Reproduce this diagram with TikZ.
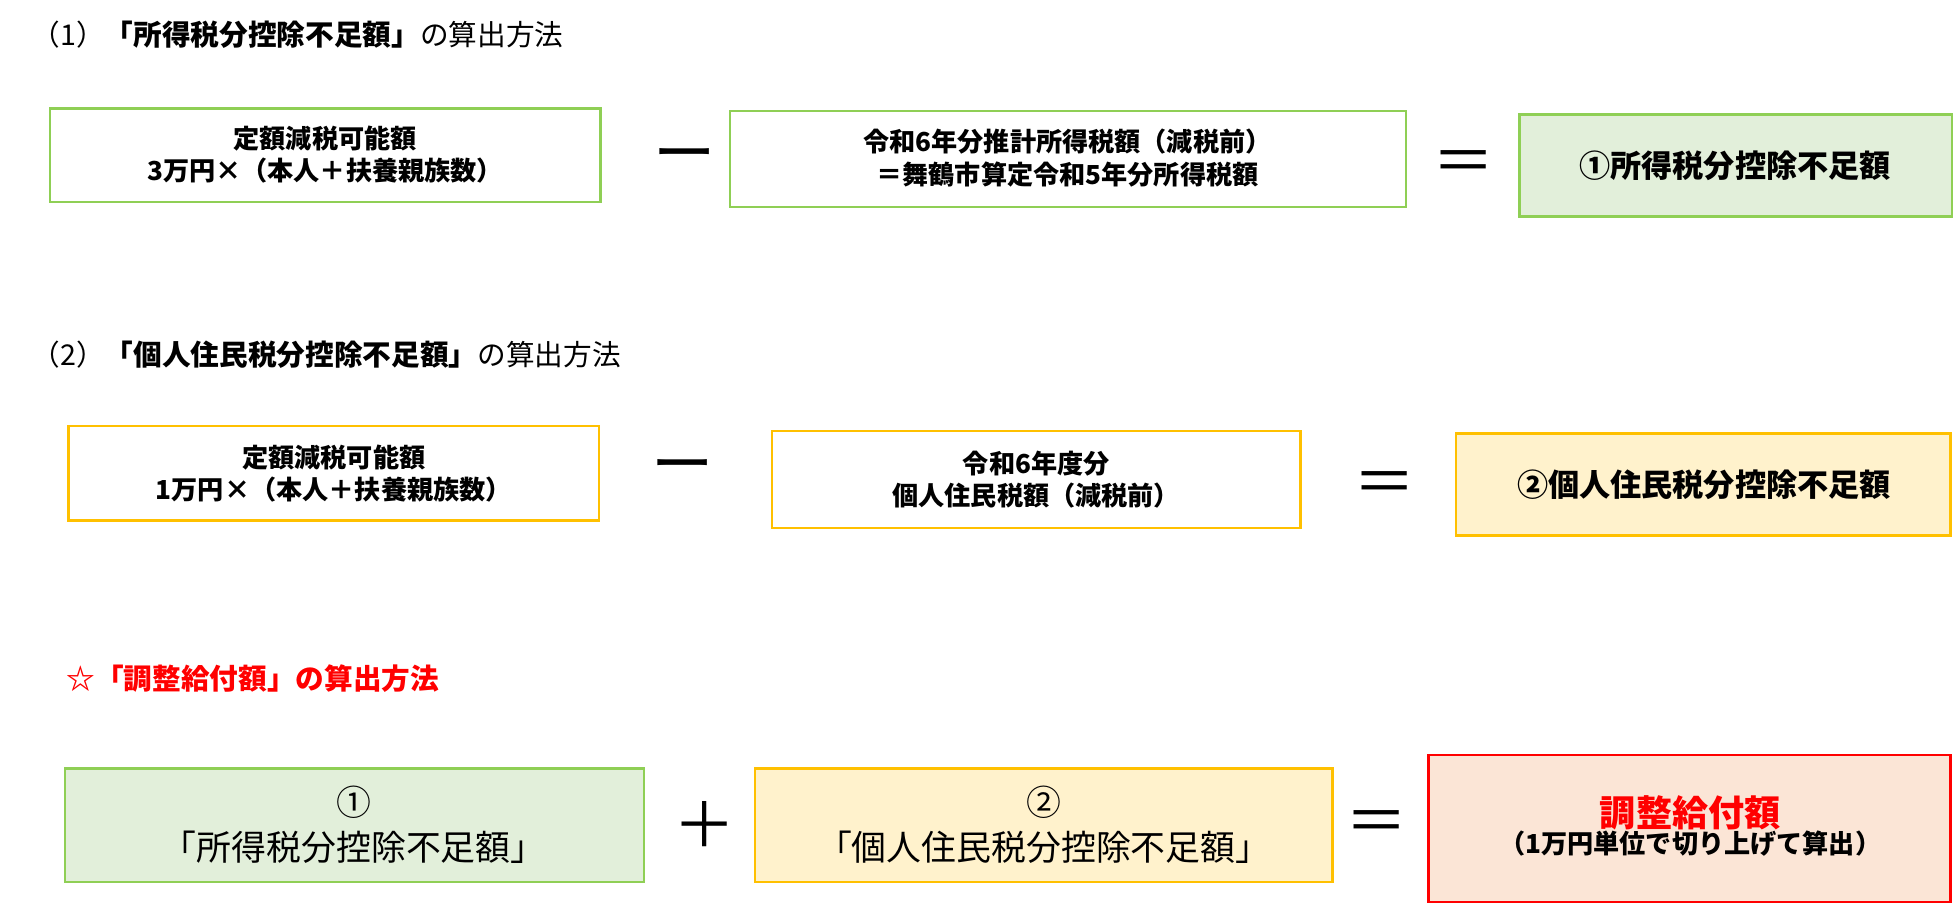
\documentclass[tikz,border=0pt]{standalone}
\usepackage{fontspec}
\setmainfont{Noto Sans CJK JP}
\definecolor{gb}{HTML}{8FCF55}\definecolor{gf}{HTML}{E2EFDA}
\definecolor{yb}{HTML}{FFC000}\definecolor{yf}{HTML}{FFF2CC}
\definecolor{rb}{HTML}{FF0000}\definecolor{rf}{HTML}{FBE5D6}
\begin{document}
\begin{tikzpicture}[x=1pt,y=-1pt,scale=1.2455,transform shape,
  lbl/.style={font=\fontsize{21}{26}\selectfont\bfseries, align=center, text=black},
  big/.style={font=\fontsize{30}{36}\selectfont\bfseries, align=center},
  op/.style={font=\fontsize{50}{54}\selectfont},
  ttl/.style={anchor=west, font=\fontsize{23}{28}\selectfont},
  G/.style={draw=gb,line width=2.5pt},Y/.style={draw=yb,line width=2.5pt}]
\fill[white] (0,0) rectangle (1568,727);
% titles
\node[ttl] (t1) at (22,28) {（1）\textbf{「所得税分控除不足額」}の算出方法};
\node[ttl] (t2) at (22,285) {（2）\textbf{「個人住民税分控除不足額」}の算出方法};
\node[ttl,text=rb] (t3) at (50,545) {\textbf{☆「調整給付額」の算出方法}};
% row 1
\draw[G] (40,87) rectangle (482,162); \node[lbl] (a1) at (261,124) {定額減税可能額\\3万円×（本人＋扶養親族数）};
\node[op] (m1) at (550,130) {ー};
\draw[G] (586,89) rectangle (1129,166); \node[lbl] (a2) at (857,127) {令和6年分推計所得税額（減税前）\\＝舞鶴市算定令和5年分所得税額};
\node[op] (e1) at (1175,134) {＝};
\draw[G,fill=gf] (1220,92) rectangle (1567,174); \node[big,font=\fontsize{25}{30}\selectfont\bfseries] (a3) at (1393,133) {①所得税分控除不足額};
% row 2
\draw[Y] (55,342) rectangle (481,418); \node[lbl] (b1) at (268,380) {定額減税可能額\\1万円×（本人＋扶養親族数）};
\node[op] (m2) at (548,380) {ー};
\draw[Y] (620,346) rectangle (1044,424); \node[lbl] (b2) at (832,385) {令和6年度分\\個人住民税額（減税前）};
\node[op] (e2) at (1112,392) {＝};
\draw[Y,fill=yf] (1169,348) rectangle (1566,430); \node[big,font=\fontsize{25}{30}\selectfont\bfseries] (b3) at (1368,389) {②個人住民税分控除不足額};
% row 3
\draw[G,fill=gf] (52,617) rectangle (517,708); \node[big,font=\fontsize{28}{36}\selectfont] (c1) at (284,662) {①\\「所得税分控除不足額」};
\node[op] (p3) at (566,662) {＋};
\draw[Y,fill=yf] (606,617) rectangle (1070,708); \node[big,font=\fontsize{28}{36}\selectfont] (c2) at (838,662) {②\\「個人住民税分控除不足額」};
\node[op] (e3) at (1105,664) {＝};
\draw[draw=rb,line width=2.5pt,fill=rf] (1147,606) rectangle (1566,724);
\node[align=center,text=rb] (c3) at (1357,663) {{\fontsize{29}{36}\selectfont\bfseries 調整給付額}\\{\fontsize{21}{28}\selectfont\bfseries\color{black}（1万円単位で切り上げて算出）}};
\pgfresetboundingbox
\path[use as bounding box] (0,0) rectangle (1568,727);
\end{tikzpicture}
\end{document}
